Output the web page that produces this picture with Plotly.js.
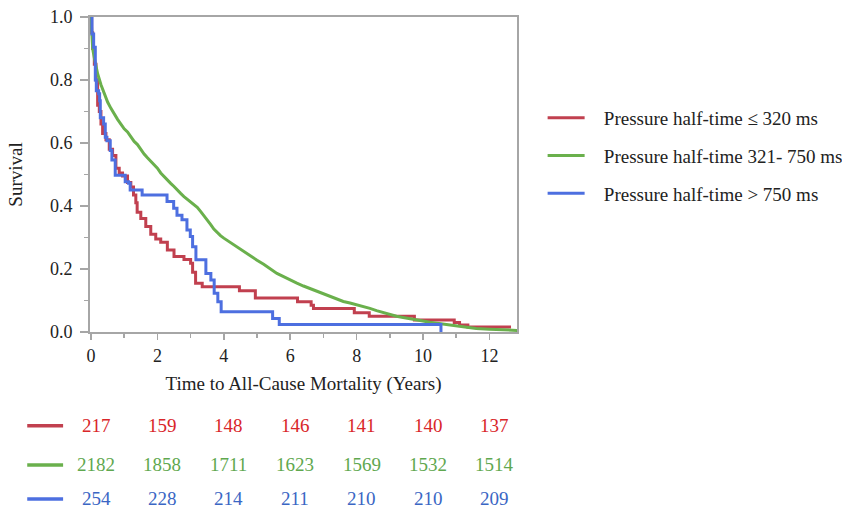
<!DOCTYPE html>
<html>
<head>
<meta charset="utf-8">
<script src="https://cdn.plot.ly/plotly-3.0.1.min.js"></script>
<style>html,body{margin:0;padding:0;background:#fff;}#chart{width:842px;height:508px;}</style>
</head>
<body>
<div id="chart"></div>
<script>
// ---- data ----
const seriesNames = ["Pressure half-time \u2264 320 ms", "Pressure half-time 321- 750 ms", "Pressure half-time > 750 ms"];

const redTime = [0,0.02,0.05,0.1,0.15,0.2,0.25,0.3,0.35,0.45,0.55,0.65,0.75,0.85,0.95,1.1,1.2,1.28,1.35,1.39,1.5,1.65,1.8,1.95,2.1,2.3,2.5,2.8,3.0,3.06,3.15,3.35,4.47,4.95,6.22,6.63,6.7,7.93,8.38,9.74,10.94,11.1,11.35,12.65];
const redSurv = [1.0,0.95,0.9,0.85,0.8,0.72,0.70,0.66,0.63,0.61,0.58,0.56,0.52,0.505,0.495,0.475,0.46,0.435,0.41,0.38,0.36,0.335,0.31,0.295,0.285,0.26,0.24,0.23,0.218,0.19,0.155,0.144,0.131,0.108,0.096,0.085,0.075,0.061,0.05,0.038,0.03,0.022,0.016,0.016];

const greenTime = [0,0.02,0.05,0.1,0.2,0.3,0.4,0.5,0.6,0.7,0.8,0.9,1.0,1.1,1.2,1.3,1.4,1.5,1.6,1.7,1.8,1.9,2.0,2.1,2.2,2.3,2.4,2.5,2.6,2.7,2.8,2.9,3.0,3.1,3.2,3.3,3.4,3.5,3.6,3.7,3.8,3.9,4.0,4.2,4.4,4.6,4.8,5.0,5.2,5.4,5.6,5.8,6.0,6.2,6.4,6.6,6.8,7.0,7.2,7.4,7.6,7.8,8.0,8.2,8.4,8.6,8.8,9.0,9.2,9.4,9.6,9.8,10.0,10.2,10.4,10.6,10.8,11.0,11.2,11.4,11.6,12.0,12.4,12.85];
const greenSurv = [1.0,0.95,0.9,0.87,0.82,0.785,0.755,0.73,0.71,0.69,0.675,0.66,0.645,0.635,0.62,0.605,0.595,0.578,0.565,0.553,0.543,0.533,0.52,0.505,0.493,0.482,0.472,0.462,0.45,0.44,0.43,0.422,0.412,0.404,0.396,0.383,0.37,0.355,0.342,0.327,0.315,0.306,0.298,0.284,0.268,0.254,0.24,0.228,0.215,0.2,0.186,0.176,0.165,0.155,0.146,0.138,0.129,0.122,0.114,0.105,0.097,0.092,0.087,0.081,0.075,0.068,0.062,0.055,0.05,0.046,0.043,0.039,0.035,0.031,0.028,0.025,0.021,0.018,0.015,0.013,0.011,0.009,0.007,0.005];

const blueTime = [0,0.03,0.08,0.13,0.16,0.23,0.26,0.28,0.38,0.43,0.48,0.58,0.63,0.73,1.03,1.13,1.18,1.54,2.29,2.49,2.59,2.74,2.89,2.99,3.06,3.16,3.46,3.61,3.71,3.82,3.92,5.47,5.67,10.54,10.54];
const blueSurv = [1.0,0.946,0.904,0.80,0.766,0.756,0.734,0.68,0.66,0.618,0.607,0.576,0.546,0.498,0.477,0.472,0.451,0.435,0.414,0.393,0.371,0.356,0.324,0.303,0.271,0.229,0.186,0.165,0.123,0.096,0.064,0.043,0.024,0.024,0.0];

const riskTimes = [0,2,4,6,8,10,12];
const riskRed = [217,159,148,146,141,140,137];
const riskGreen = [2182,1858,1711,1623,1569,1532,1514];
const riskBlue = [254,228,214,211,210,210,209];

const xTitle = "Time to All-Cause Mortality (Years)";
const yTitle = "Survival";

// ---- styling ----
const lineColors = ["#c1404f", "#6ab04c", "#4d6fe0"];
const textColors = ["#d9262a", "#5fa84f", "#3a66c4"];
const lineShapes = ["hv", "linear", "hv"];
const serif = "Liberation Serif, Times New Roman, serif";
const pad = "\u00a0\u00a0\u00a0";

const traces = [
  {x: redTime, y: redSurv},
  {x: greenTime, y: greenSurv},
  {x: blueTime, y: blueSurv}
].map((d, i) => ({
  x: d.x, y: d.y, type: "scatter", mode: "lines",
  line: {shape: lineShapes[i], color: lineColors[i], width: 3},
  name: pad + seriesNames[i], legendgroup: "g" + i
}));

const riskRows = [riskRed, riskGreen, riskBlue];
const rowY = [-0.298, -0.422, -0.530];
const annotations = [];
const shapes = [];
riskRows.forEach((row, r) => {
  row.forEach((v, k) => {
    annotations.push({
      x: riskTimes[k], xref: "x", y: rowY[r], yref: "paper",
      text: String(v), showarrow: false, xanchor: "center", yanchor: "middle",
      xshift: 5, font: {family: serif, size: 19, color: textColors[r]}
    });
  });
  shapes.push({type: "line", xref: "paper", yref: "paper",
    x0: -0.147, x1: -0.063, y0: rowY[r], y1: rowY[r],
    line: {color: lineColors[r], width: 3.5}});
});

const layout = {
  width: 842, height: 508,
  margin: {l: 90, r: 325, t: 17, b: 176, autoexpand: false},
  paper_bgcolor: "#ffffff", plot_bgcolor: "#ffffff",
  font: {family: serif, size: 18, color: "#222"},
  showlegend: true,
  legend: {x: 1.06, y: 0.74, xanchor: "left", yanchor: "top",
    font: {family: serif, size: 19, color: "#222"},
    tracegroupgap: 10, itemwidth: 37, bgcolor: "rgba(0,0,0,0)"},
  xaxis: {
    range: [-0.03, 12.83], tickvals: riskTimes, ticks: "outside", ticklen: 6, tickcolor: "#a6a6a6", tickwidth: 1.5,
    minor: {dtick: 1, ticks: "outside", ticklen: 4, tickcolor: "#a6a6a6", tickwidth: 1.5},
    showgrid: false, zeroline: false, showline: true, linecolor: "#a6a6a6", linewidth: 2, mirror: true,
    tickfont: {family: serif, size: 18, color: "#222"},
    title: {text: xTitle, font: {family: serif, size: 19, color: "#222"}, standoff: 12}
  },
  yaxis: {
    range: [0, 1.0], dtick: 0.2, tickformat: ".1f", ticks: "outside", ticklen: 8, tickcolor: "#a6a6a6", tickwidth: 1.5,
    minor: {dtick: 0.1, ticks: "outside", ticklen: 4, tickcolor: "#a6a6a6", tickwidth: 1.5},
    showgrid: false, zeroline: false, showline: true, linecolor: "#a6a6a6", linewidth: 2, mirror: true,
    ticklabelstandoff: 4,
    tickfont: {family: serif, size: 18, color: "#222"},
    title: {text: yTitle, font: {family: serif, size: 19, color: "#222"}, standoff: 22}
  },
  annotations: annotations,
  shapes: shapes
};

Plotly.newPlot("chart", traces, layout, {displayModeBar: false, staticPlot: true});
</script>
</body>
</html>
